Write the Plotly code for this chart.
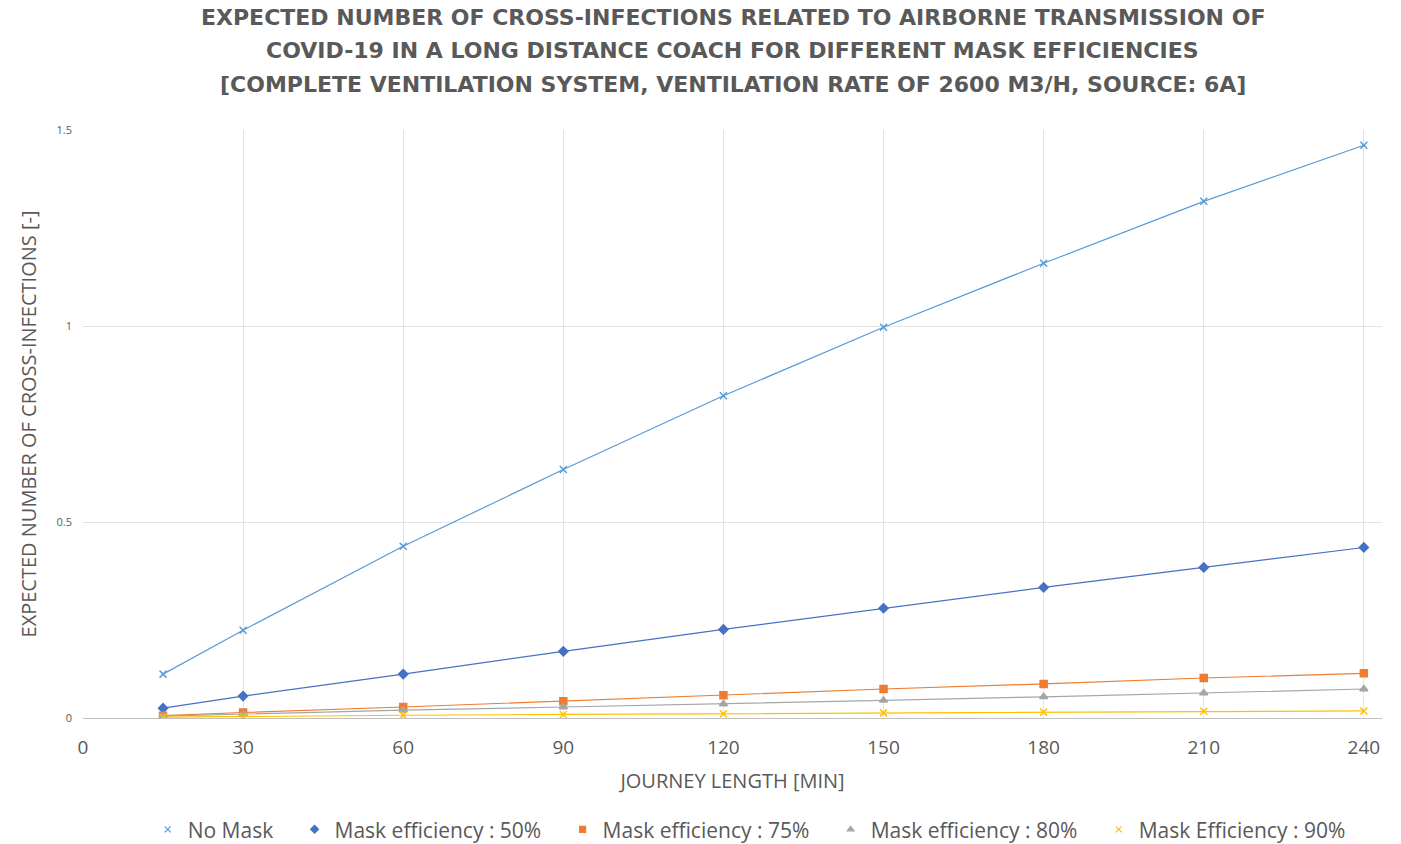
import plotly.graph_objects as go

journey_min = [15, 30, 60, 90, 120, 150, 180, 210, 240]
no_mask = [0.112, 0.224, 0.438, 0.634, 0.822, 0.997, 1.160, 1.318, 1.461]
mask_50 = [0.025, 0.056, 0.112, 0.170, 0.226, 0.280, 0.333, 0.384, 0.435]
mask_75 = [0.006, 0.014, 0.028, 0.043, 0.058, 0.074, 0.087, 0.102, 0.114]
mask_80 = [0.005, 0.010, 0.020, 0.028, 0.036, 0.045, 0.054, 0.064, 0.074]
mask_90 = [0.002, 0.004, 0.007, 0.009, 0.011, 0.013, 0.015, 0.017, 0.018]

series = [
    ("No Mask", no_mask, "#5B9BD5", "x-thin", 7),
    ("Mask efficiency : 50%", mask_50, "#4472C4", "diamond", 7),
    ("Mask efficiency : 75%", mask_75, "#ED7D31", "square", 7),
    ("Mask efficiency : 80%", mask_80, "#A5A5A5", "triangle-up", 7),
    ("Mask Efficiency : 90%", mask_90, "#FFC000", "x-thin", 7),
]

title_lines = [
    "EXPECTED NUMBER OF CROSS-INFECTIONS RELATED TO AIRBORNE TRANSMISSION OF",
    "COVID-19 IN A LONG DISTANCE COACH FOR DIFFERENT MASK EFFICIENCIES",
    "[COMPLETE VENTILATION SYSTEM, VENTILATION RATE OF 2600 M3/H, SOURCE: 6A]",
]
title_y = [1.1905, 1.136, 1.078]

x_ticks = [0, 30, 60, 90, 120, 150, 180, 210, 240]
y_ticks = [0, 0.5, 1, 1.5]
y_tick_text = ["0", "0.5", "1", "1.5"]

fig = go.Figure()
for name, vals, color, sym, size in series:
    fig.add_trace(go.Scatter(
        x=journey_min, y=vals, mode="lines+markers", name=name,
        line=dict(color=color, width=1.2),
        marker=dict(symbol=sym, size=size, color=color,
                    line=dict(color=color, width=1.5)),
        showlegend=False,
    ))
for name, vals, color, sym, size in series:
    fig.add_trace(go.Scatter(
        x=[None], y=[None], mode="markers", name=name + "\u00a0\u00a0\u00a0",
        marker=dict(symbol=sym, size=6, color=color,
                    line=dict(color=color, width=1.2)),
        showlegend=True,
    ))

grey = "#595959"
for txt, yy in zip(title_lines, title_y):
    fig.add_annotation(
        text="<b>" + txt + "</b>", x=0.5, xref="paper", y=yy, yref="paper",
        xanchor="center", yanchor="middle", showarrow=False,
        font=dict(family="DejaVu Sans", size=22, color=grey),
    )

fig.update_layout(
    width=1401, height=844,
    margin=dict(l=83, r=19, t=130, b=126, autoexpand=False),
    paper_bgcolor="white", plot_bgcolor="white",
    font=dict(family="Open Sans", color=grey),
    xaxis=dict(
        range=[0, 243.4], tickvals=x_ticks, showgrid=True, gridcolor="#E3E3E3",
        zeroline=False, showline=False, ticks="",
        tickfont=dict(size=19, color=grey), ticklabelstandoff=16,
        title=dict(text="JOURNEY LENGTH [MIN]", font=dict(size=20, color=grey), standoff=14),
    ),
    yaxis=dict(
        range=[0, 1.5], tickvals=y_ticks, ticktext=y_tick_text,
        showgrid=True, gridcolor="#E3E3E3", zeroline=True, zerolinecolor="#BFBFBF",
        zerolinewidth=1, showline=False, ticks="",
        tickfont=dict(size=11, color=grey), ticklabelstandoff=10,
        title=dict(text="EXPECTED NUMBER OF CROSS-INFECTIONS [-]",
                   font=dict(size=20, color=grey), standoff=14),
    ),
    legend=dict(
        orientation="h", x=0.519, xanchor="center", y=-0.19, yanchor="middle",
        font=dict(size=21, color=grey), itemsizing="trace",
    ),
)

fig.write_html("out.html")
